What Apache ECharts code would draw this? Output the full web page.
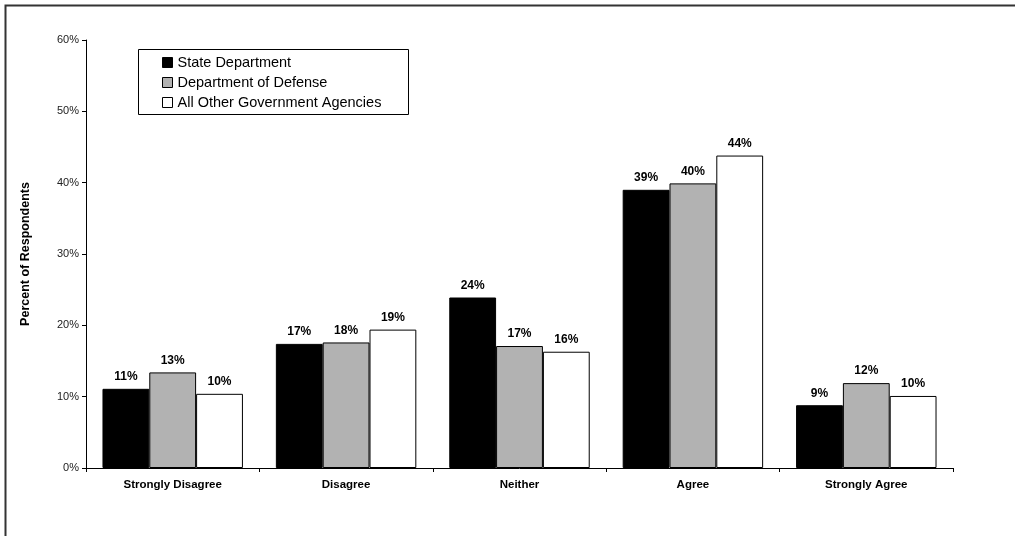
<!DOCTYPE html>
<html>
<head>
    <meta charset="utf-8">
    <title>Percent of Respondents</title>
    <script src="https://cdn.jsdelivr.net/npm/echarts@6/dist/echarts.min.js"></script>
    <style>
        html, body { margin: 0; padding: 0; background: #fff; }
    </style>
</head>
<body>
<div id="main" style="width: 1015px;height:536px;"></div>
<script type="text/javascript">
    // data
    var categories = ['Strongly Disagree', 'Disagree', 'Neither', 'Agree', 'Strongly Agree'];
    var seriesNames = ['State Department', 'Department of Defense', 'All Other Government Agencies'];
    var stateDept = [11.1, 17.4, 23.9, 39.0, 8.8];
    var defense = [13.4, 17.6, 17.1, 39.9, 11.9];
    var otherAgencies = [10.4, 19.4, 16.3, 43.8, 10.1];
    var yTicks = [0, 10, 20, 30, 40, 50, 60];

    var fills = ['#000000', '#b2b2b2', '#ffffff'];
    var values = [stateDept, defense, otherAgencies];

    var myChart = echarts.init(document.getElementById('main'));

    var series = values.map(function (v, i) {
        return {
            name: seriesNames[i],
            type: 'bar',
            data: v,
            barGap: '0%',
            barCategoryGap: '19%',
            itemStyle: { color: fills[i], borderColor: '#000', borderWidth: 1 },
            label: {
                show: true,
                position: 'top',
                distance: 6,
                formatter: function (p) { return Math.round(p.value) + '%'; },
                fontFamily: 'Arial, Liberation Sans',
                fontWeight: 'bold',
                fontSize: 12,
                color: '#000'
            }
        };
    });

    var option = {
        animation: false,
        grid: { left: 86, right: 62, top: 40, bottom: 68 },
        graphic: [
            { // outer frame
                type: 'rect',
                shape: { x: 5.5, y: 5.5, width: 1100, height: 600 },
                style: { fill: 'none', stroke: '#333', lineWidth: 2 }
            },
            { // legend box
                type: 'rect',
                shape: { x: 138.5, y: 49.5, width: 270, height: 65 },
                style: { fill: '#fff', stroke: '#000', lineWidth: 1 },
                z: 5
            }
        ],
        legend: {
            orient: 'vertical',
            left: 162,
            top: 55,
            padding: 0,
            itemWidth: 10,
            itemHeight: 10,
            itemGap: 5,
            icon: 'rect',
            z: 10,
            itemStyle: { borderWidth: 1, borderColor: '#000' },
            textStyle: {
                fontFamily: 'Arial, Liberation Sans',
                fontSize: 14.5,
                lineHeight: 15,
                color: '#000'
            },
            data: seriesNames
        },
        xAxis: {
            type: 'category',
            data: categories,
            axisLine: { lineStyle: { color: '#000', width: 1 } },
            axisTick: { show: true, length: 4, inside: false, lineStyle: { color: '#000' } },
            axisLabel: {
                margin: 11,
                fontFamily: 'Arial, Liberation Sans',
                fontWeight: 'bold',
                fontSize: 11.5,
                color: '#000'
            }
        },
        yAxis: {
            type: 'value',
            min: yTicks[0],
            max: yTicks[yTicks.length - 1],
            interval: 10,
            name: 'Percent of Respondents',
            nameLocation: 'middle',
            nameGap: 54,
            nameRotate: 90,
            nameTextStyle: {
                fontFamily: 'Arial, Liberation Sans',
                fontWeight: 'bold',
                fontSize: 12.5,
                color: '#000'
            },
            axisLine: { show: true, lineStyle: { color: '#000', width: 1 } },
            axisTick: { show: true, length: 4, lineStyle: { color: '#000' } },
            splitLine: { show: false },
            axisLabel: {
                margin: 7,
                formatter: '{value}%',
                fontFamily: 'Arial, Liberation Sans',
                fontSize: 11,
                color: '#222'
            }
        },
        series: series
    };

    myChart.setOption(option);
</script>
</body>
</html>
